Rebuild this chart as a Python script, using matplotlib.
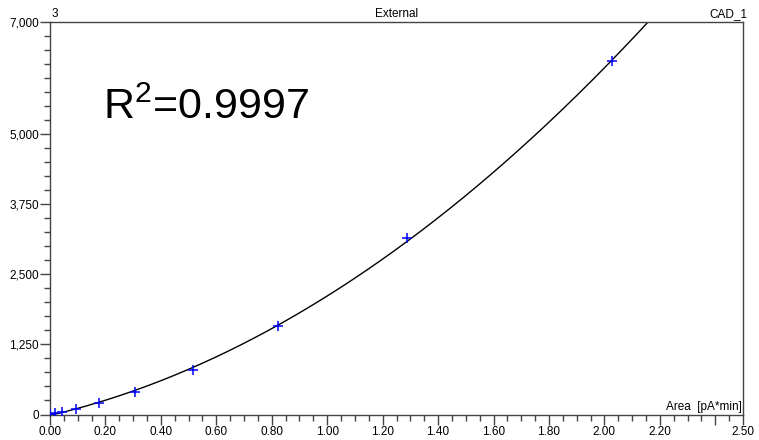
import matplotlib
matplotlib.use("Agg")
import matplotlib.pyplot as plt
import matplotlib.ticker as ticker
import numpy as np

plt.rcParams["font.family"] = ["Liberation Sans", "DejaVu Sans"]
plt.rcParams["mathtext.fontset"] = "custom"
plt.rcParams["mathtext.rm"] = "Liberation Sans"

# calibration points
area = [0.0, 0.018, 0.042, 0.093, 0.177, 0.307, 0.516, 0.821, 1.287, 2.027]
amount = [10, 20, 50, 98, 205, 401, 794, 1578, 3153, 6296]

x_major = [0.0, 0.2, 0.4, 0.6, 0.8, 1.0, 1.2, 1.4, 1.6, 1.8, 2.0, 2.2, 2.4, 2.5]
x_labels = ["0.00", "0.20", "0.40", "0.60", "0.80", "1.00", "1.20", "1.40",
            "1.60", "1.80", "2.00", "2.20", "", "2.50"]
y_major = [0, 1250, 2500, 3750, 5000, 7000]
y_labels = ["0", "1,250", "2,500", "3,750", "5,000", "7,000"]

fig = plt.figure(figsize=(7.59, 4.40), dpi=100)
ax = fig.add_axes([50 / 759, (440 - 414.5) / 440, 693 / 759, 392.5 / 440])

# quadratic calibration fit
coef = np.polyfit(area, amount, 2)
xs = np.linspace(0, 2.5, 400)
ax.plot(xs, np.polyval(coef, xs), color="black", linewidth=1.0, zorder=2)
ax.plot(area, amount, linestyle="none", marker="+", color="#0000ff",
        markersize=7, markeredgewidth=1.1, zorder=3)

ax.set_xlim(0, 2.5)
ax.set_ylim(0, 7000)

ax.xaxis.set_major_locator(ticker.FixedLocator(x_major))
ax.xaxis.set_major_formatter(ticker.FixedFormatter(x_labels))
ax.xaxis.set_minor_locator(ticker.MultipleLocator(0.05))
ax.yaxis.set_major_locator(ticker.FixedLocator(y_major))
ax.yaxis.set_major_formatter(ticker.FixedFormatter(y_labels))
ax.yaxis.set_minor_locator(ticker.MultipleLocator(250))

ax.tick_params(which="major", direction="out", length=7, width=1,
               color="#444444", labelsize=8.5, pad=1)
ax.tick_params(which="minor", direction="out", length=4, width=1,
               color="#444444")

for side in ["left", "bottom", "top", "right"]:
    ax.spines[side].set_color("#444444")
    ax.spines[side].set_linewidth(1.0)

ax.text((103 - 50) / 693, 1 - (119 - 22) / 392.5, r"R$^{\mathrm{2}}$=0.9997",
        transform=ax.transAxes, fontsize=31, ha="left", va="baseline")
ax.text(0.999, 0.005, "Area  [pA*min]", transform=ax.transAxes,
        fontsize=8.5, ha="right", va="bottom")

fig.text(52 / 759, 1 - 17 / 440, "3", fontsize=8.5, ha="left", va="baseline")
fig.text(396.5 / 759, 1 - 17 / 440, "External", fontsize=8.5, ha="center", va="baseline")
fig.text(747 / 759, 1 - 17 / 440, "CAD_1", fontsize=8.5, ha="right", va="baseline")

fig.savefig("out.png", dpi=100)
